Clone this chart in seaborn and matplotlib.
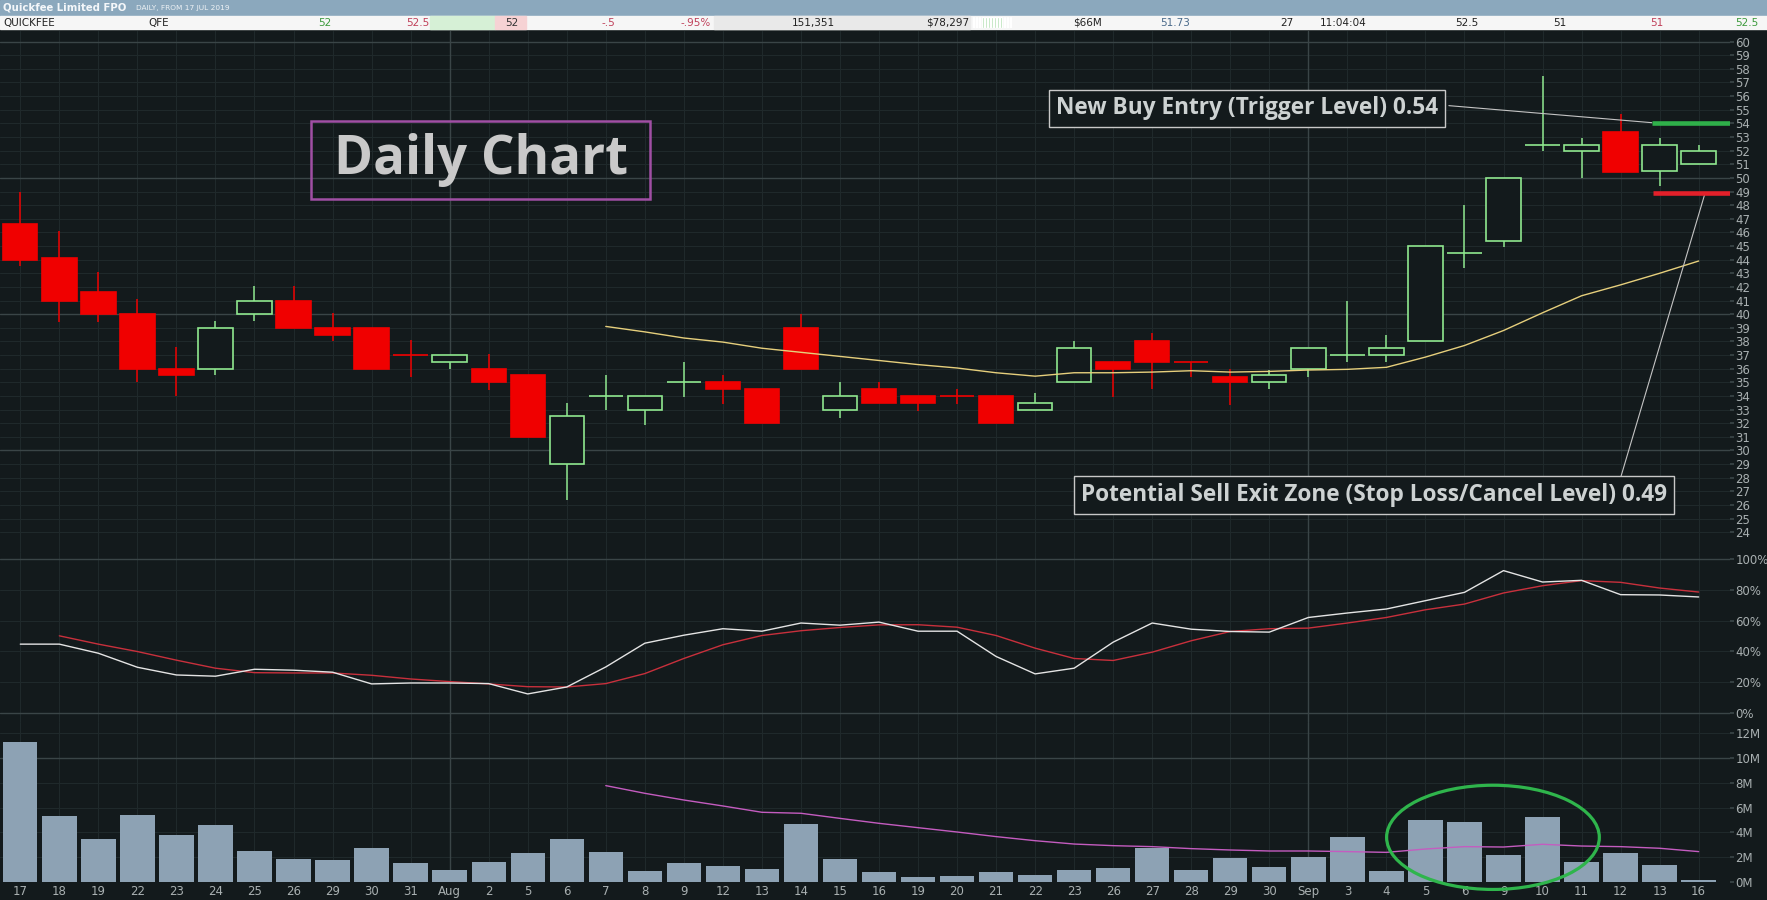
import numpy as np
import pandas as pd
import matplotlib
matplotlib.use("Agg")
import matplotlib.pyplot as plt
from matplotlib.patches import Rectangle, Ellipse
import seaborn as sns

# ---------------- data ----------------
dates = ["17", "18", "19", "22", "23", "24", "25", "26", "29", "30", "31",
         "Aug", "2", "5", "6", "7", "8", "9", "12", "13", "14", "15", "16",
         "19", "20", "21", "22", "23", "26", "27", "28", "29", "30",
         "Sep", "3", "4", "5", "6", "9", "10", "11", "12", "13", "16"]

opens = [46.6, 44.1, 41.6, 40.0, 36.0, 36.0, 40.0, 41.0, 39.0, 39.0, 37.0,
         36.5, 36.0, 35.5, 29.0, 34.0, 33.0, 35.0, 35.0, 34.5, 39.0, 33.0, 34.5,
         34.0, 34.0, 34.0, 33.0, 35.0, 36.5, 38.0, 36.5, 35.4, 35.0,
         36.0, 37.0, 37.0, 38.0, 44.5, 45.4, 52.4, 52.0, 53.4, 50.5, 51.0]
highs = [49.0, 46.1, 43.1, 41.1, 37.6, 39.5, 42.1, 42.1, 40.1, 39.0, 38.1,
         37.0, 37.1, 35.5, 33.5, 35.5, 34.0, 36.5, 35.5, 34.5, 40.0, 35.0, 35.0,
         34.0, 34.5, 34.0, 34.2, 38.0, 36.5, 38.6, 36.5, 36.0, 35.9,
         37.5, 41.0, 38.5, 45.0, 48.0, 50.0, 57.5, 52.9, 54.7, 52.9, 52.4]
lows = [43.5, 39.4, 39.4, 35.0, 34.0, 35.5, 39.5, 39.0, 38.0, 36.0, 35.4,
        36.0, 34.4, 31.0, 26.4, 33.0, 31.9, 33.9, 33.4, 32.0, 36.0, 32.4, 33.5,
        32.9, 33.4, 32.0, 33.0, 35.0, 33.9, 34.5, 35.4, 33.3, 34.5,
        35.4, 36.5, 36.5, 38.0, 43.4, 44.9, 52.0, 50.0, 50.4, 49.4, 51.0]
closes = [44.0, 41.0, 40.0, 36.0, 35.5, 39.0, 41.0, 39.0, 38.5, 36.0, 37.0,
          37.0, 35.0, 31.0, 32.5, 34.0, 34.0, 35.0, 34.5, 32.0, 36.0, 34.0, 33.5,
          33.5, 34.0, 32.0, 33.5, 37.5, 36.0, 36.5, 36.5, 35.0, 35.5,
          37.5, 37.0, 37.5, 45.0, 44.5, 50.0, 52.4, 52.4, 50.4, 52.4, 52.0]
# 1 = up day (green hollow), -1 = down day (red filled)
direction = [-1, -1, -1, -1, -1, 1, 1, -1, -1, -1, -1,
             1, -1, -1, 1, 1, 1, 1, -1, -1, -1, 1, -1,
             -1, -1, -1, 1, 1, -1, -1, -1, -1, 1,
             1, 1, 1, 1, 1, 1, 1, 1, -1, 1, 1]

price_ma = [np.nan] * 15 + [39.1, 38.7, 38.25, 37.95, 37.5, 37.2, 36.9, 36.6,
                            36.3, 36.05, 35.7, 35.45, 35.7, 35.7, 35.75, 35.85,
                            35.75, 35.8, 35.9, 35.95, 36.1, 36.85, 37.7, 38.8,
                            40.1, 41.35, 42.15, 43.0, 43.9]

osc_fast = [44.7, 44.7, 38.8, 29.7, 24.7, 23.9, 28.4, 27.8, 26.5, 18.9,
            19.5, 19.5, 19.1, 12.4, 16.9, 29.9, 45.3, 50.5, 54.7, 53.1,
            58.4, 57.0, 59.0, 53.1, 53.1, 36.7, 25.4, 29.1, 46.0, 58.4,
            54.4, 52.9, 52.5, 62.0, 64.9, 67.5, 72.9, 78.3, 92.4, 85.0,
            86.1, 76.8, 76.6, 75.3]
osc_slow = [np.nan, 50.1, 44.7, 39.9, 34.3, 29.1, 26.2, 26.0, 26.0, 24.5,
            22.1, 20.4, 18.9, 17.1, 16.9, 19.1, 25.6, 35.4, 44.3, 50.3,
            53.4, 55.5, 57.2, 57.3, 55.7, 50.3, 42.1, 35.4, 34.1, 39.5,
            46.9, 52.9, 54.7, 55.1, 58.4, 62.0, 67.0, 70.7, 77.9, 82.6,
            85.9, 84.8, 81.1, 78.5]

volume_m = [11.29, 5.32, 3.47, 5.40, 3.79, 4.60, 2.50, 1.85, 1.77, 2.74, 1.53,
            0.97, 1.61, 2.34, 3.47, 2.42, 0.89, 1.53, 1.29, 1.05, 4.68, 1.85, 0.81,
            0.40, 0.48, 0.81, 0.56, 0.97, 1.13, 2.77, 0.97, 1.94, 1.21,
            2.02, 3.63, 0.89, 5.00, 4.84, 2.18, 5.24, 1.61, 2.34, 1.37, 0.16]
volume_ma = [np.nan] * 15 + [7.77, 7.15, 6.61, 6.13, 5.62, 5.54, 5.13, 4.73,
                             4.38, 4.03, 3.66, 3.33, 3.06, 2.93, 2.85, 2.69,
                             2.58, 2.50, 2.50, 2.45, 2.39, 2.66, 2.85, 2.82,
                             3.04, 2.90, 2.85, 2.72, 2.45]

price_ticks = list(range(24, 61))
osc_ticks = [0, 20, 40, 60, 80, 100]
osc_labels = ["0%", "20%", "40%", "60%", "80%", "100%"]
vol_ticks = [0, 2, 4, 6, 8, 10, 12]
vol_labels = ["0M", "2M", "4M", "6M", "8M", "10M", "12M"]

buy_level = 54.05
stop_level = 48.9
buy_label = "New Buy Entry (Trigger Level) 0.54"
stop_label = "Potential Sell Exit Zone (Stop Loss/Cancel Level) 0.49"

header_title = "Quickfee Limited FPO"
header_sub = "DAILY, FROM 17 JUL 2019"
spark = [3, 3, 3, 3, 3, 3, 3, 3, 3, 3, 3, 3, 3]

# ---------------- style ----------------
BG = "#131a1c"
GRID = "#1f292b"
GRID_B = "#3a4547"
LABEL = "#a9b0b1"
RED = "#f00000"
GREEN = "#8fe88f"

sns.set_theme(style="dark", rc={"axes.facecolor": BG, "figure.facecolor": BG})
plt.rcParams["font.family"] = ["DejaVu Sans"]
NARROW = ["Liberation Sans Narrow", "DejaVu Sans"]
BOLD_FONT = ["Open Sans", "DejaVu Sans"]

df = pd.DataFrame({"i": np.arange(len(dates)), "date": dates, "open": opens,
                   "high": highs, "low": lows, "close": closes,
                   "dir": direction, "ma": price_ma, "fast": osc_fast,
                   "slow": osc_slow, "vol": volume_m, "vma": volume_ma})

fig = plt.figure(figsize=(17.67, 9.0), dpi=100, facecolor=BG)
L, W = 0.0, 0.979
ax_p = fig.add_axes([L, 0.3867, W, 0.5789])
ax_o = fig.add_axes([L, 0.1978, W, 0.1889])
ax_v = fig.add_axes([L, 0.02, W, 0.1778])
XLIM = (-0.52, len(dates) - 0.2)

for ax in (ax_p, ax_o, ax_v):
    ax.set_facecolor(BG)
    for s in ax.spines.values():
        s.set_visible(False)

# ---------------- price panel ----------------
up = df["dir"] > 0
body_bottom = np.minimum(df["open"], df["close"])
body_h = (df["open"] - df["close"]).abs()
face = np.where(up, BG, RED)
edge = np.where(up, GREEN, RED)
ax_p.vlines(df["i"], df["low"], df["high"], colors=edge, lw=1.1, zorder=3)
ax_p.bar(df["i"], body_h, bottom=body_bottom, width=0.88, color=face,
         edgecolor=edge, linewidth=1.2, zorder=4)
sns.lineplot(data=df, x="i", y="ma", ax=ax_p, color="#e6cf7c", lw=1.0, zorder=5)

ax_p.set_ylim(22.55, 60.78)
ax_p.set_xlim(*XLIM)
ax_p.set_yticks(price_ticks)
ax_p.set_xticks(df["i"])
ax_p.grid(True, color=GRID, lw=0.8)
for t in price_ticks:
    if t % 10 == 0:
        ax_p.axhline(t, color=GRID_B, lw=1, zorder=1)

# level lines
ax_p.hlines(buy_level, 41.8, XLIM[1], color="#2fb04a", lw=3.3, zorder=6)
ax_p.hlines(stop_level, 41.83, XLIM[1], color="#e3202a", lw=3.3, zorder=6)
ax_p.plot([36.6, 41.8], [55.3, buy_level], color="#c4c4c4", lw=0.8, zorder=5)
ax_p.plot([41.0, 43.15], [28.0, 48.75], color="#c4c4c4", lw=0.8, zorder=5)

ax_p.text(31.42, 55.1, buy_label, ha="center", va="center", fontsize=16.3,
          fontweight="bold", color="#cdd2d2", family=BOLD_FONT, zorder=7,
          bbox=dict(boxstyle="square,pad=0.3", fc=BG, ec="#c8c8c8", lw=1))
ax_p.text(34.68, 26.73, stop_label, ha="center", va="center", fontsize=16.3,
          fontweight="bold", color="#cdd2d2", family=BOLD_FONT, zorder=7,
          bbox=dict(boxstyle="square,pad=0.3", fc=BG, ec="#c8c8c8", lw=1))

ax_p.add_patch(Rectangle((7.46, 48.43), 8.67, 5.76, fill=False,
                         ec="#a04fa4", lw=1.8, zorder=7))
ax_p.text(11.8, 51.3, "Daily Chart", ha="center", va="center", fontsize=38,
          fontweight="bold", color="#c9c9c9", family=BOLD_FONT, zorder=7)

# ---------------- oscillator panel ----------------
sns.lineplot(data=df, x="i", y="slow", ax=ax_o, color="#c8303c", lw=1.0, zorder=4)
sns.lineplot(data=df, x="i", y="fast", ax=ax_o, color="#e4e4e4", lw=1.0, zorder=5)
ax_o.set_ylim(-5.8, 104.5)
ax_o.set_xlim(*XLIM)
ax_o.set_yticks(osc_ticks)
ax_o.set_yticklabels(osc_labels)
ax_o.set_xticks(df["i"])
ax_o.grid(True, color=GRID, lw=0.8)
for t in (0, 100):
    ax_o.axhline(t, color=GRID_B, lw=1, zorder=1)

# ---------------- volume panel ----------------
sns.barplot(data=df, x="i", y="vol", ax=ax_v, color="#8da2b4", saturation=1,
            width=0.88, edgecolor="none", zorder=3)
sns.lineplot(x=df["i"], y=df["vma"], ax=ax_v, color="#c45cc0", lw=1.0, zorder=4)
ax_v.set_ylim(0, 12.9)
ax_v.set_xlim(*XLIM)
ax_v.set_yticks(vol_ticks)
ax_v.set_yticklabels(vol_labels)
ax_v.set_xticks(df["i"])
ax_v.set_xticklabels(dates)
ax_v.grid(True, color=GRID, lw=0.8)
ax_v.axhline(10, color=GRID_B, lw=1, zorder=1)
ax_v.add_patch(Ellipse((37.73, 3.6), 5.45, 8.4, fill=False, ec="#2fb54c",
                       lw=2.3, zorder=6, clip_on=False))

month_starts = [dates.index("Aug"), dates.index("Sep")]
for ax in (ax_p, ax_o, ax_v):
    for m in month_starts:
        ax.axvline(m, color=GRID_B, lw=1, zorder=1)
    ax.set_xlabel("")
    ax.set_ylabel("")
    ax.yaxis.tick_right()
    ax.tick_params(axis="y", length=3, color=GRID_B, labelcolor=LABEL,
                   labelsize=8.5, pad=1)
    for lab in ax.get_yticklabels():
        lab.set_family(NARROW)
    if ax is not ax_v:
        ax.tick_params(axis="x", length=0, labelbottom=False)
ax_v.tick_params(axis="x", length=0, labelcolor=LABEL, labelsize=8.5, pad=2)
for lab in ax_v.get_xticklabels():
    lab.set_family(NARROW)

# ---------------- header ----------------
fig.add_artist(Rectangle((0, 0.9826), 1, 0.0174, transform=fig.transFigure,
                         color="#8ba8bd", zorder=10))
fig.add_artist(Rectangle((0, 0.9674), 1, 0.0152, transform=fig.transFigure,
                         color="#f6f6f6", zorder=10))
cells = [(430, 495, "#d6f0d6"), (495, 526, "#f6d2d4"), (714, 970, "#e9e9e9")]
for x0, x1, c in cells:
    fig.add_artist(Rectangle((x0 / 1767, 0.9674), (x1 - x0) / 1767, 0.0152,
                             transform=fig.transFigure, color=c, zorder=11))
fig.text(3 / 1767, 0.9913, header_title, color="#f4f7fa", fontsize=7.3,
         fontweight="bold", va="center", ha="left", family=NARROW, zorder=12)
fig.text(136 / 1767, 0.9908, header_sub, color="#eef2f5", fontsize=5.3,
         va="center", ha="left", family=NARROW, zorder=12)

row_y = 0.9748
info = [(3, "QUICKFEE", "left", "#222222"), (148, "QFE", "left", "#222222"),
        (331, "52", "right", "#3c9a3c"), (429, "52.5", "right", "#c0405a"),
        (518, "52", "right", "#333333"), (615, "-.5", "right", "#c0405a"),
        (711, "-.95%", "right", "#c0405a"), (835, "151,351", "right", "#222222"),
        (969, "$78,297", "right", "#222222"), (1102, "$66M", "right", "#222222"),
        (1190, "51.73", "right", "#4a6a8a"), (1293, "27", "right", "#222222"),
        (1320, "11:04:04", "left", "#222222"), (1478, "52.5", "right", "#222222"),
        (1566, "51", "right", "#222222"), (1663, "51", "right", "#c0405a"),
        (1758, "52.5", "right", "#3c9a3c")]
for x, s, ha, c in info:
    fig.text(x / 1767, row_y, s, color=c, fontsize=7.5, va="center", ha=ha,
             family=NARROW, zorder=12)

ax_s = fig.add_axes([972 / 1767, 0.9690, 40 / 1767, 0.0120], zorder=12)
spark_colors = ["#a8dca8"] * 10 + ["#2e9a3e", "#a8dca8", "#d03030"]
ax_s.bar(range(len(spark)), spark, width=0.5, color=spark_colors)
ax_s.set_xlim(-0.5, len(spark) - 0.5)
ax_s.set_ylim(0, 3)
ax_s.axis("off")

fig.savefig("out.png", dpi=100, facecolor=BG)
